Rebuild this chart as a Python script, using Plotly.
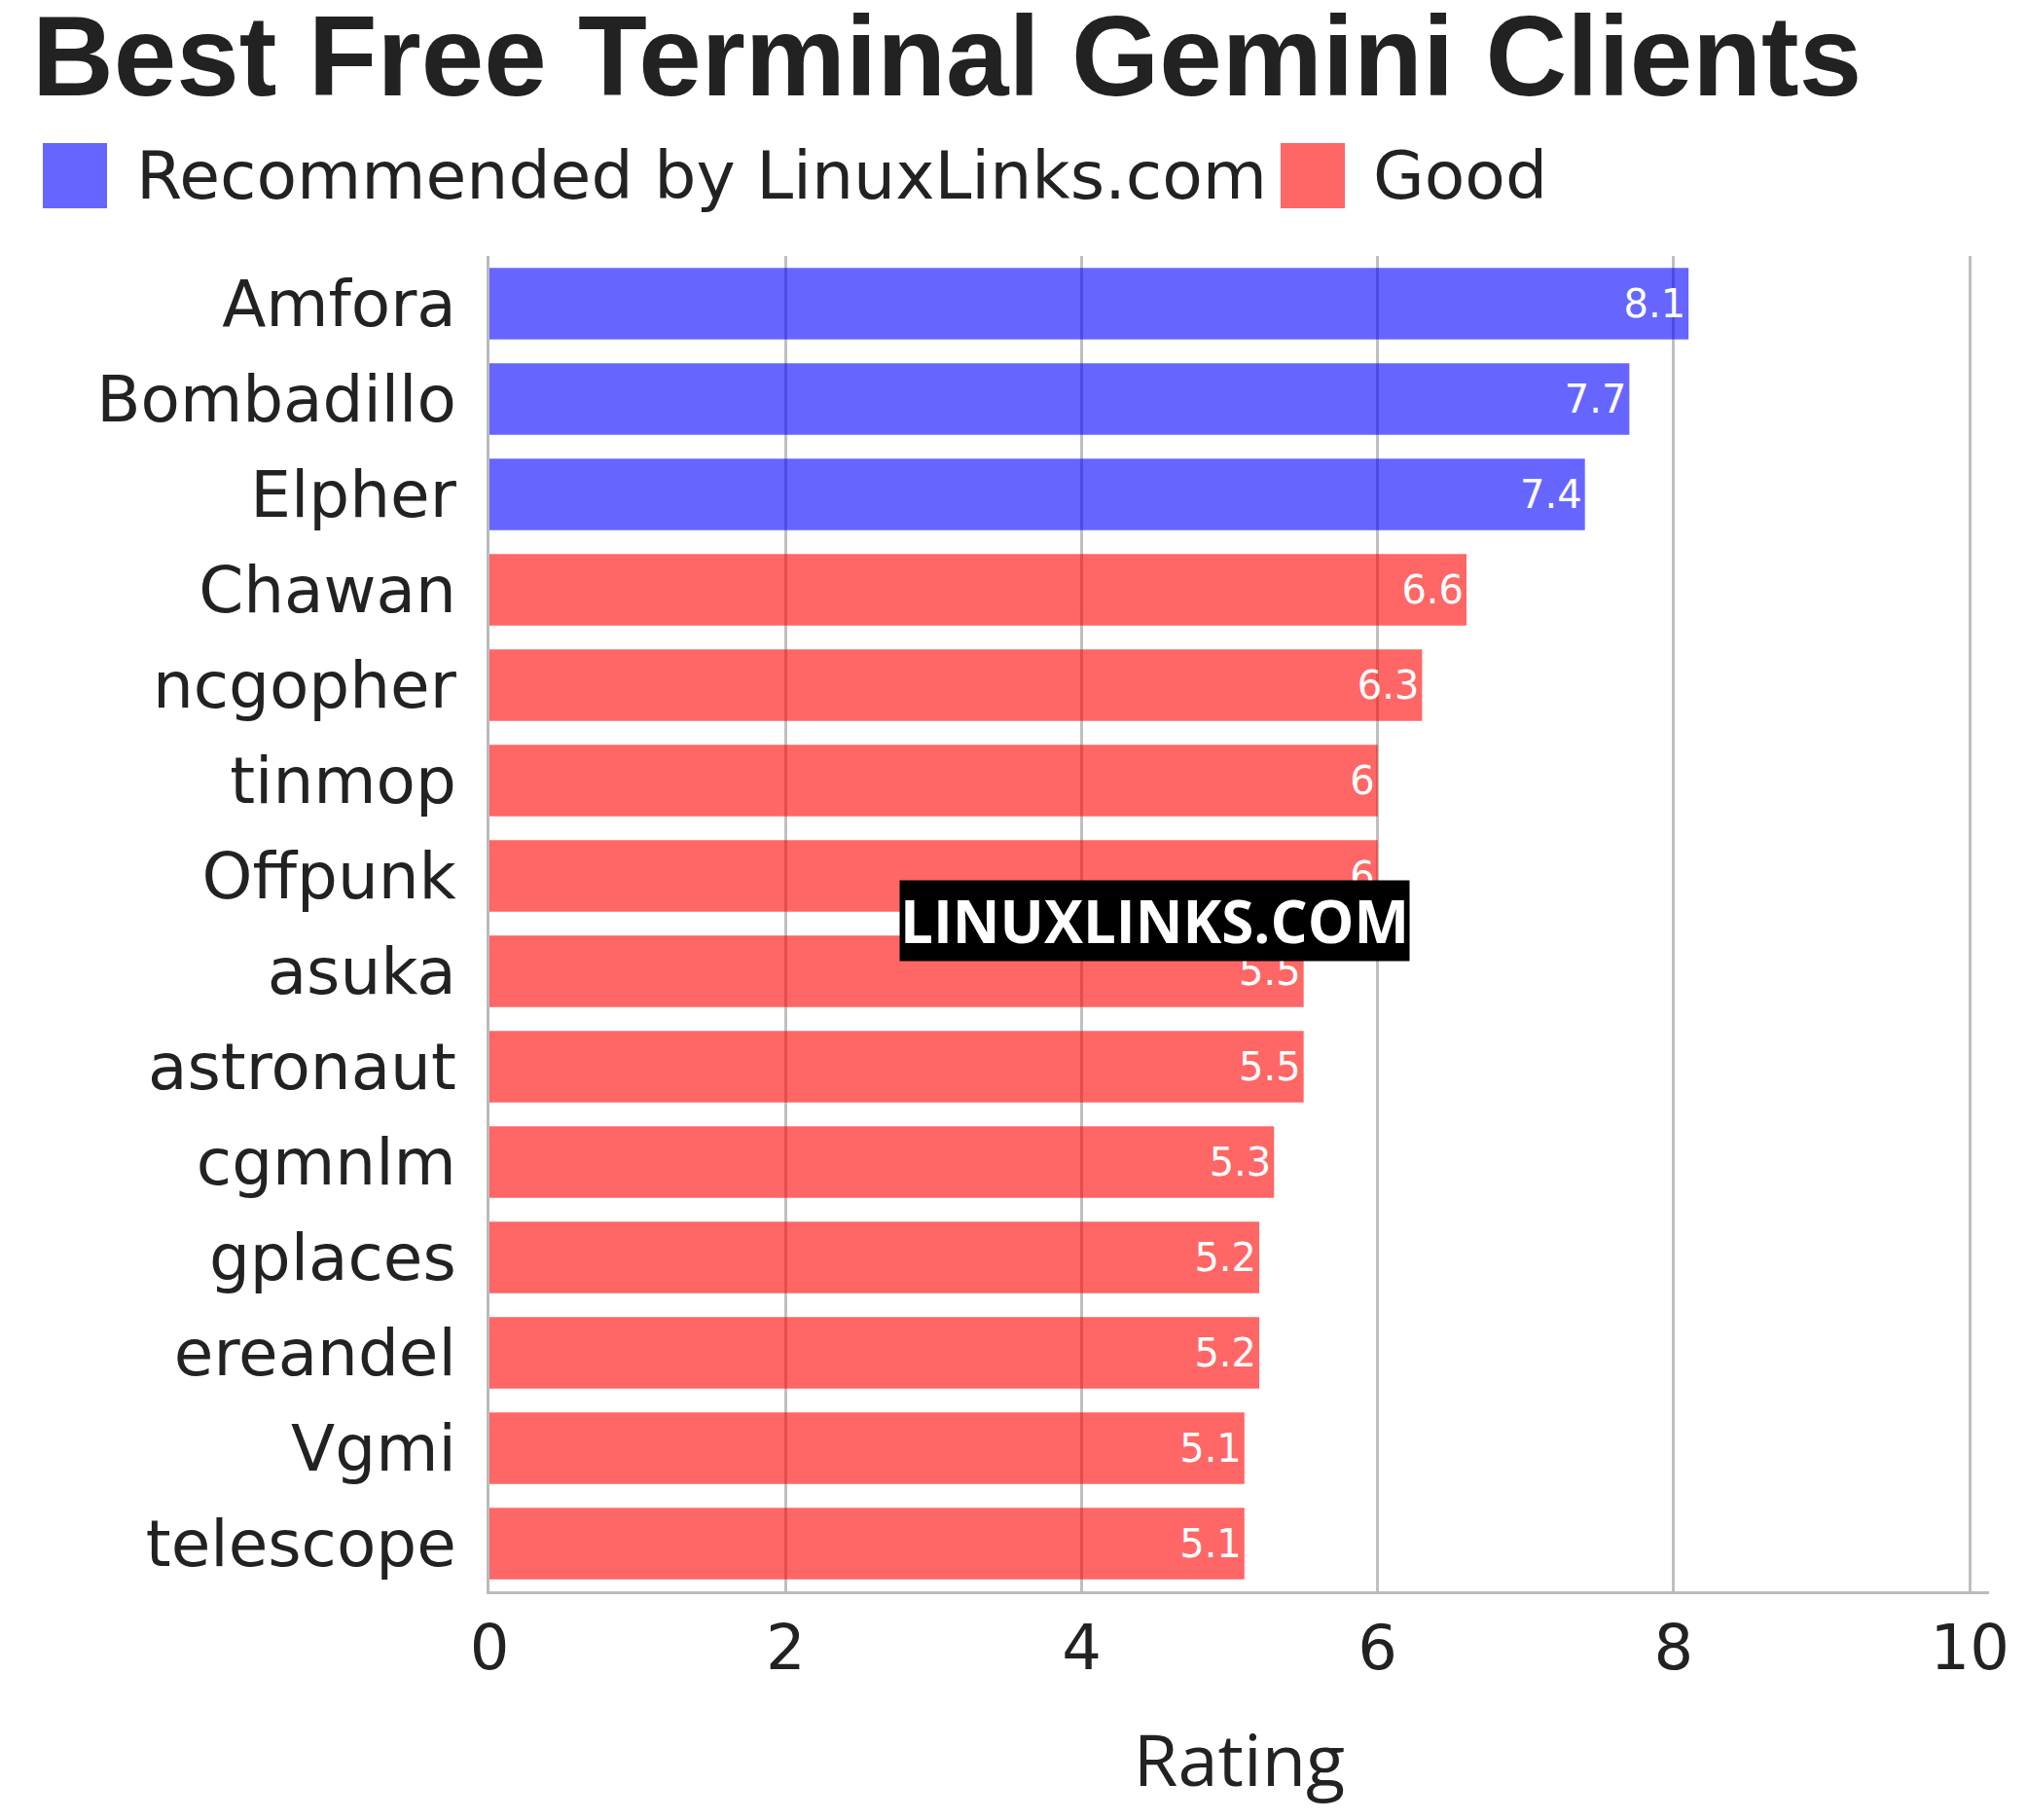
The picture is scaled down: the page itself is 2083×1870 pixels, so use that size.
import plotly.graph_objects as go

names = ["Amfora","Bombadillo","Elpher","Chawan","ncgopher","tinmop","Offpunk","asuka",
         "astronaut","cgmnlm","gplaces","ereandel","Vgmi","telescope"]
ratings = [8.1,7.7,7.4,6.6,6.3,6,6,5.5,5.5,5.3,5.2,5.2,5.1,5.1]
groups = ["Recommended by LinuxLinks.com"]*3 + ["Good"]*11
colors = {"Recommended by LinuxLinks.com": "rgba(0,0,255,0.6)", "Good": "rgba(255,0,0,0.6)"}

fig = go.Figure()
for g in ["Recommended by LinuxLinks.com", "Good"]:
    xs = [r for r, gg in zip(ratings, groups) if gg == g]
    ys = [n for n, gg in zip(names, groups) if gg == g]
    fig.add_trace(go.Bar(x=xs, y=ys, orientation="h", name=g, showlegend=False,
                         marker=dict(color=colors[g], line=dict(width=0)),
                         text=[f"{v:g}" for v in xs], textposition="inside",
                         insidetextanchor="end",
                         textfont=dict(color="white", size=40, family="DejaVu Sans")))

W, H, L, R, T, B = 2083, 1870, 495, 47, 255, 243
pw, ph = W - L - R, H - T - B
def px(x): return (x - L) / pw
def py(y): return (H - B - y) / ph

fig.update_layout(
    width=W, height=H, plot_bgcolor="white", paper_bgcolor="white",
    margin=dict(l=L, r=R, t=T, b=B), showlegend=False,
    bargap=0.25,
    title=dict(text="<b>Best Free Terminal Gemini Clients</b>", x=0.012, xanchor="left",
               y=1 - 49 / H, yanchor="middle",
               font=dict(size=116, family="Liberation Sans", color="#222")),
    font=dict(family="DejaVu Sans", color="#222"),
    xaxis=dict(range=[0, 10.13], dtick=2, showgrid=True, gridcolor="rgba(0,0,0,0.25)",
               gridwidth=3, showline=True, linecolor="#bbb", linewidth=3,
               tickfont=dict(size=64), ticks="", ticklen=10, tickcolor="white",
               title=dict(text="Rating", font=dict(size=74, family="Open Sans"), standoff=55),
               layer="above traces"),
    yaxis=dict(categoryorder="array", categoryarray=names[::-1], autorange=True,
               tickfont=dict(size=66), ticks="outside", ticklen=18, tickcolor="white",
               showline=True, linecolor="#bbb", linewidth=3),
)
# legend drawn manually
leg = [("Recommended by LinuxLinks.com", colors["Recommended by LinuxLinks.com"], 36, 130),
       ("Good", colors["Good"], 1308, 1401)]
for label, col, sx, tx in leg:
    fig.add_shape(type="rect", xref="paper", yref="paper",
                  x0=px(sx), x1=px(sx + 66), y0=py(206), y1=py(139),
                  fillcolor=col, line=dict(width=0))
    fig.add_annotation(text=label, x=px(tx), y=py(173), xref="paper", yref="paper",
                       xanchor="left", yanchor="middle", showarrow=False,
                       font=dict(size=68, family="DejaVu Sans", color="#222"))
fig.add_annotation(text="<b>LINUXLINKS.COM</b>", x=px(916), y=py(938), xref="paper", yref="paper",
                   showarrow=False, bgcolor="black", borderpad=0,
                   font=dict(size=60, color="white", family="Open Sans"))
fig.add_shape(type="line", xref="paper", yref="paper", x0=-0.33, x1=1.03,
              y0=py(1866), y1=py(1866), line=dict(color="black", width=3))
fig.write_html("out.html")
